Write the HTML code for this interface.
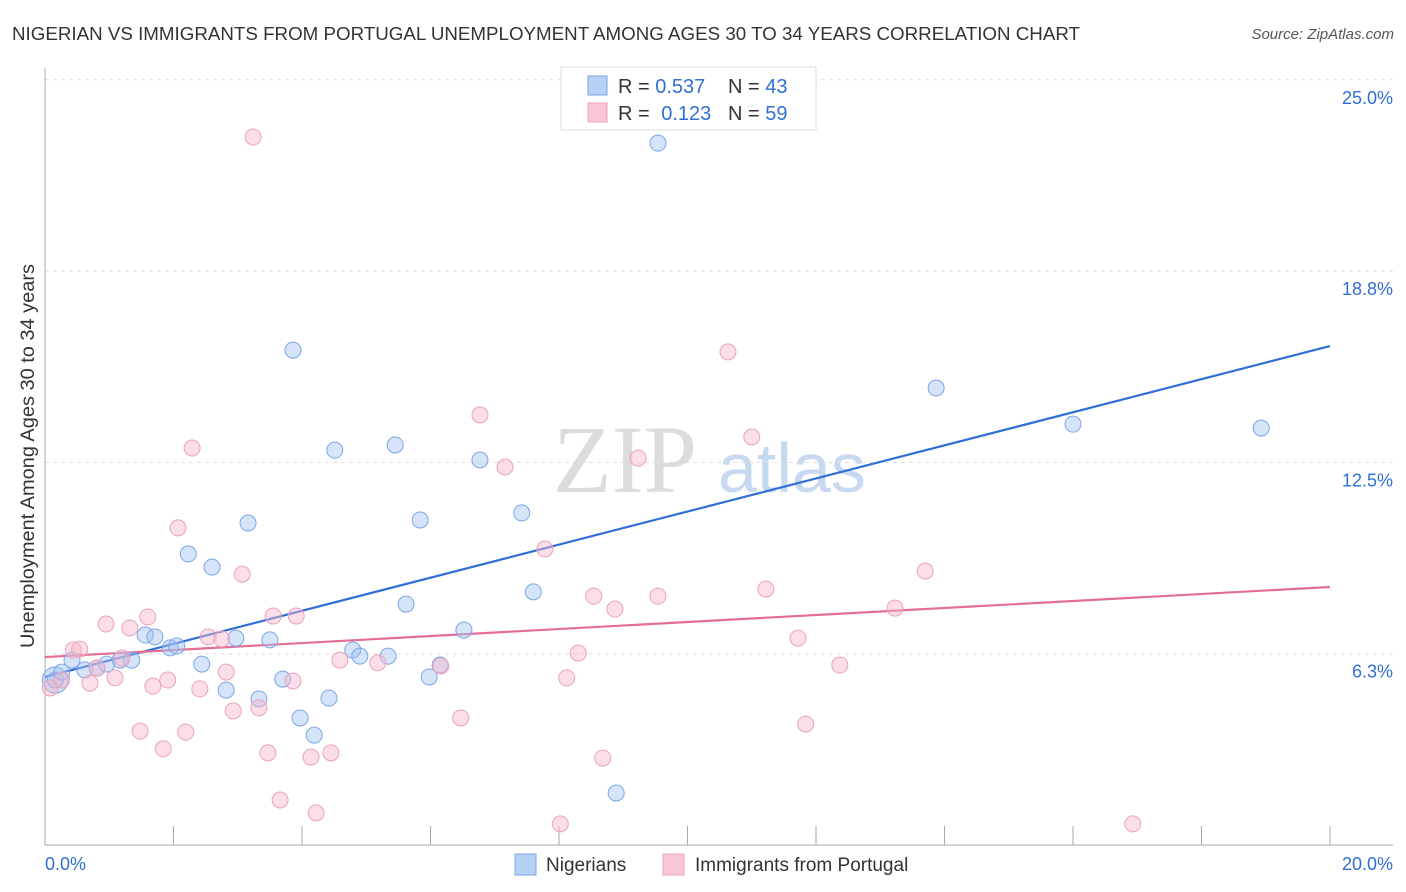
<!DOCTYPE html>
<html><head><meta charset="utf-8"><style>
body{margin:0;background:#fff;font-family:"Liberation Sans",sans-serif;}
svg{display:block}
</style></head><body>
<svg id="chart" width="1406" height="892">
<text x="12" y="40" font-size="18" fill="#333" textLength="1068" lengthAdjust="spacingAndGlyphs">NIGERIAN VS IMMIGRANTS FROM PORTUGAL UNEMPLOYMENT AMONG AGES 30 TO 34 YEARS CORRELATION CHART</text>
<text x="1394" y="39" font-size="15" fill="#555" font-style="italic" text-anchor="end">Source: ZipAtlas.com</text>
<text transform="translate(34,456) rotate(-90)" font-size="19" fill="#333" text-anchor="middle" textLength="384" lengthAdjust="spacingAndGlyphs">Unemployment Among Ages 30 to 34 years</text>
<g>
<text x="553" y="492" font-size="96" fill="#dcdcdc" font-family="Liberation Serif,serif">ZIP</text>
<text x="718" y="492" font-size="70" fill="#c7d9f0">atlas</text>
</g>
<g id="grid"></g><g id="axes"></g><g id="trend"></g><g id="pts"></g>
<g>
<rect x="561" y="67" width="255" height="63" fill="#fff" stroke="#ddd"/>
<rect x="588" y="76" width="19" height="19" fill="#b7d0f5" stroke="#7aa6e8"/>
<rect x="588" y="103" width="19" height="19" fill="#f8c6d5" stroke="#eba3bb"/>
<text x="618" y="93" font-size="20" fill="#333">R = <tspan fill="#2f6fd6">0.537</tspan><tspan x="728">N = </tspan><tspan fill="#2f6fd6">43</tspan></text>
<text x="618" y="120" font-size="20" fill="#333">R = <tspan fill="#2f6fd6" dx="6">0.123</tspan><tspan x="728">N = </tspan><tspan fill="#2f6fd6">59</tspan></text>
</g>
<g>
<rect x="515" y="854" width="21" height="21" fill="#b7d0f5" stroke="#7aa6e8"/>
<text x="546" y="871" font-size="19" fill="#333">Nigerians</text>
<rect x="663" y="854" width="21" height="21" fill="#f8c6d5" stroke="#eba3bb"/>
<text x="695" y="871" font-size="19" fill="#333">Immigrants from Portugal</text>
</g>
</svg>
<script>
const yTicks=[6.25,12.5,18.75,25];
const yTickLabels=["6.3%","12.5%","18.8%","25.0%"];
const xTickLabels=["0.0%","20.0%"];
const blueX=[0.16,0.26,0.42,0.62,0.81,0.96,1.17,1.35,1.56,1.71,1.95,2.05,2.23,2.44,2.60,2.82,2.97,3.16,3.33,3.50,3.70,3.86,3.97,4.19,4.42,4.51,4.79,4.90,5.34,5.45,5.62,5.84,5.98,6.15,6.52,6.77,7.42,7.60,8.89,9.54,13.87,16.00,18.93];
const blueY=[5.39,5.65,6.04,5.72,5.78,5.91,6.04,6.04,6.86,6.80,6.44,6.50,9.51,5.91,9.08,5.06,6.76,10.52,4.77,6.70,5.42,16.17,4.15,3.59,4.80,12.90,6.37,6.17,6.17,13.07,7.87,10.62,5.49,5.88,7.02,12.58,10.85,8.27,1.70,22.93,14.93,13.75,13.62];
const pinkX=[0.08,0.26,0.44,0.54,0.70,0.81,0.95,1.09,1.20,1.32,1.48,1.60,1.68,1.84,1.91,2.07,2.19,2.29,2.41,2.54,2.75,2.82,2.93,3.07,3.24,3.33,3.47,3.55,3.66,3.86,3.91,4.14,4.22,4.45,4.59,5.18,6.16,6.47,6.77,7.16,7.78,8.02,8.12,8.30,8.54,8.68,8.87,9.23,9.54,10.63,11.00,11.22,11.72,11.84,12.37,13.23,13.70,16.93];
const pinkY=[5.13,5.39,6.37,6.40,5.29,5.78,7.22,5.46,6.11,7.09,3.72,7.45,5.19,3.14,5.39,10.36,3.69,12.97,5.10,6.80,6.73,5.65,4.38,8.85,23.13,4.48,3.01,7.48,1.47,5.36,7.48,2.87,1.05,3.01,6.04,5.95,5.85,4.15,14.05,12.35,9.67,0.69,5.46,6.27,8.13,2.84,7.71,12.64,8.13,16.11,13.33,8.36,6.76,3.95,5.88,7.74,8.95,0.69];
const blueTrend=[5.49,16.30];
const pinkTrend=[6.14,8.43];
const NS="http://www.w3.org/2000/svg";
const sx=v=>45+v/20*1285, sy=v=>845-v/6.25*191.3;
function mk(tag,attrs,parent){const e=document.createElementNS(NS,tag);for(const k in attrs)e.setAttribute(k,attrs[k]);document.getElementById(parent).appendChild(e);return e;}
yTicks.forEach((t,i)=>{
 const l=mk('line',{x1:45,x2:1393,y1:sy(t),y2:sy(t),stroke:'#ddd','stroke-dasharray':'4,4'},'grid');
 
 
 const tx=mk('text',{x:1393,y:sy(t)+24,'font-size':18,fill:'#2f6fd6','text-anchor':'end'},'grid');
 tx.textContent=yTickLabels[i];
 
 
});
const ax=mk('line',{x1:45,x2:45,y1:68,y2:845,stroke:'#aaa'},'axes');


const bx=mk('line',{x1:45,x2:1393,y1:845,y2:845,stroke:'#aaa'},'axes');


for(let i=1;i<=10;i++){const t=mk('line',{x1:sx(i*2),x2:sx(i*2),y1:826,y2:845,stroke:'#aaa'},'axes');
 
 }
[[0,'start',45],[1,'end',1393]].forEach(([i,a,x])=>{const t=mk('text',{x:x,y:870,'font-size':18,fill:'#2f6fd6','text-anchor':a},'axes');t.textContent=xTickLabels[i];
 
 });
function pts(X,Y,fill,stroke,name){X.forEach((x,i)=>{const c=mk('circle',{cx:sx(x),cy:sy(Y[i]),r:8,fill:fill,stroke:stroke,'stroke-width':1},'pts');
 
 });}
const big=mk('circle',{cx:sx(blueX[0]),cy:sy(blueY[0]),r:13,fill:'rgba(160,190,240,0.45)',stroke:'#7aa6e8'},'pts');


pts(blueX,blueY,'rgba(165,195,242,0.45)','#7aa6e8','nigerian-point');
pts(pinkX,pinkY,'rgba(246,182,202,0.45)','#eba3bb','portugal-point');
const bl=mk('line',{x1:sx(0),y1:sy(blueTrend[0]),x2:sx(20),y2:sy(blueTrend[1]),stroke:'#2f6fd6','stroke-width':2.2},'trend');


const pl=mk('line',{x1:sx(0),y1:sy(pinkTrend[0]),x2:sx(20),y2:sy(pinkTrend[1]),stroke:'#e46d95','stroke-width':2.2},'trend');


</script>
</body></html>
